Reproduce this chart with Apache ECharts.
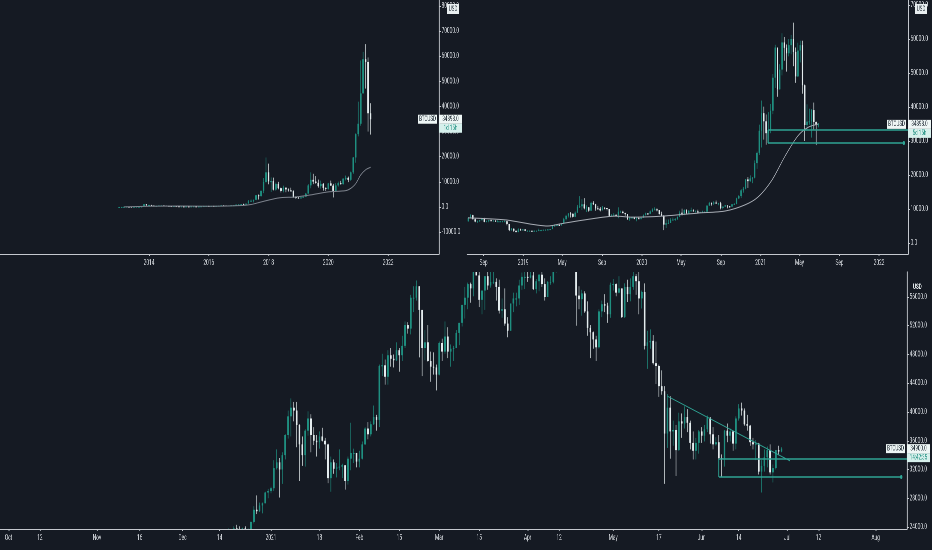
<!DOCTYPE html>
<html>
<head>
<meta charset="utf-8">
<script src="https://cdn.jsdelivr.net/npm/echarts@6/dist/echarts.min.js"></script>
<style>
html, body { margin: 0; padding: 0; background: #151a23; overflow: hidden; }
#wrap { width: 932px; height: 550px; overflow: hidden; }
/* the reference screenshot is squeezed sideways, so the chart is drawn wide and narrowed */
#chart { width: 1553px; height: 550px; transform: scaleX(0.6); transform-origin: 0 0; }
</style>
</head>
<body>
<div id="wrap"><div id="chart"></div></div>
<script>
const SX = 0.6;
const px = v => v / SX;   // page pixels -> chart pixels (horizontal only)
const UP = '#1f8f80', DOWN = '#e4ecee', TEXT = '#d3d7dc', AXIS = '#c4c8ce', DRAW = '#2fa394';
const FONT = 'Roboto, sans-serif';

// monthly BTCUSD candles, [open, close, low, high] in thousands, first month Jan 2013
const monthFirst = [2013, 0];
const monthly = [
  [0.013,0.020,0.013,0.021],[0.020,0.033,0.019,0.035],[0.033,0.093,0.033,0.095],[0.093,0.139,0.050,0.266],
  [0.139,0.128,0.080,0.140],[0.128,0.097,0.090,0.130],[0.097,0.106,0.065,0.110],[0.106,0.140,0.100,0.140],
  [0.140,0.140,0.110,0.145],[0.140,0.200,0.110,0.210],[0.200,1.130,0.200,1.160],[1.130,0.730,0.500,1.160],
  [0.73,0.80,0.74,1.02],[0.80,0.57,0.41,0.85],[0.57,0.45,0.44,0.70],[0.45,0.45,0.34,0.54],
  [0.45,0.63,0.42,0.64],[0.63,0.64,0.55,0.68],[0.64,0.59,0.57,0.66],[0.59,0.48,0.45,0.60],
  [0.48,0.39,0.37,0.50],[0.39,0.34,0.28,0.42],[0.34,0.38,0.31,0.46],[0.38,0.32,0.31,0.39],
  [0.32,0.22,0.15,0.32],[0.22,0.25,0.21,0.27],[0.25,0.24,0.24,0.30],[0.24,0.24,0.21,0.26],
  [0.24,0.23,0.23,0.25],[0.23,0.26,0.22,0.27],[0.26,0.28,0.25,0.32],[0.28,0.23,0.20,0.29],
  [0.23,0.24,0.22,0.25],[0.24,0.31,0.24,0.33],[0.31,0.38,0.31,0.50],[0.38,0.43,0.35,0.47],
  [0.43,0.37,0.35,0.46],[0.37,0.44,0.37,0.45],[0.44,0.42,0.40,0.44],[0.42,0.45,0.41,0.47],
  [0.45,0.53,0.44,0.55],[0.53,0.67,0.52,0.78],[0.67,0.62,0.60,0.70],[0.62,0.57,0.54,0.62],
  [0.57,0.61,0.57,0.63],[0.61,0.70,0.60,0.72],[0.70,0.74,0.69,0.75],[0.74,0.96,0.74,0.98],
  [0.96,0.97,0.75,1.16],[0.97,1.19,0.92,1.20],[1.19,1.07,0.89,1.30],[1.07,1.35,1.06,1.35],
  [1.35,2.30,1.34,2.77],[2.30,2.50,2.16,3.02],[2.50,2.86,1.84,2.93],[2.86,4.70,2.69,4.76],
  [4.70,4.34,2.97,4.98],[4.34,6.45,4.11,6.47],[6.45,9.95,5.51,11.52],[9.95,13.80,9.42,19.70],
  [13.80,10.20,9.04,17.25],[10.20,10.30,5.95,11.79],[10.30,6.90,6.60,11.68],[6.90,9.20,6.43,9.76],
  [9.20,7.50,7.05,10.00],[7.50,6.40,5.78,7.76],[6.40,7.70,5.83,8.49],[7.70,7.00,5.88,7.76],
  [7.00,6.60,6.13,7.40],[6.60,6.30,6.20,7.67],[6.30,4.00,3.65,6.60],[4.00,3.70,3.16,4.30],
  [3.70,3.40,3.35,4.10],[3.40,3.80,3.37,4.20],[3.80,4.10,3.70,4.10],[4.10,5.30,4.05,5.60],
  [5.30,8.60,5.30,9.10],[8.60,10.80,7.45,13.80],[10.80,10.10,9.10,13.20],[10.10,9.60,9.30,12.30],
  [9.60,8.30,7.70,10.90],[8.30,9.20,7.30,10.50],[9.20,7.60,6.50,9.50],[7.60,7.20,6.40,7.80],
  [7.20,9.40,6.90,9.60],[9.40,8.50,8.40,10.50],[8.50,6.40,3.80,9.20],[6.40,8.60,6.20,9.50],
  [8.60,9.50,8.10,10.10],[9.50,9.10,8.90,10.40],[9.10,11.30,8.90,11.40],[11.30,11.60,10.60,12.50],
  [11.60,10.80,9.90,12.10],[10.80,13.80,10.40,14.10],[13.80,19.70,13.20,19.90],[19.70,29.00,17.60,29.30],
  [29.00,33.10,28.10,41.90],[33.10,45.20,32.30,58.30],[45.20,58.80,45.10,61.70],[58.80,57.70,47.10,64.80],
  [57.70,37.30,30.00,59.50],[37.30,34.90,28.80,41.30]
];

// weekly candles, first week 2018-07-16
const weekFirst = '2018-07-16';
const weekly = [
  [6.35,7.4,6.3,7.6],[7.4,8.2,7.3,8.5],[8.2,7.0,6.9,8.3],[7.0,6.3,6.1,7.2],[6.3,6.5,5.9,6.6],[6.5,6.7,6.2,6.8],
  [6.7,7.3,6.7,7.4],[7.3,6.2,6.1,7.4],[6.2,6.5,6.1,6.6],[6.5,6.7,6.1,6.8],[6.7,6.6,6.5,6.9],[6.6,6.6,6.5,6.7],
  [6.6,6.3,6.2,6.7],[6.3,6.4,6.3,6.8],[6.4,6.4,6.3,6.5],[6.4,6.4,6.3,6.5],[6.4,6.4,6.3,6.6],[6.4,5.6,5.2,6.5],
  [5.6,3.8,3.5,5.6],[3.8,4.2,3.6,4.4],[4.2,3.6,3.3,4.3],[3.6,3.2,3.2,3.6],[3.2,4.0,3.2,4.3],[4.0,3.9,3.6,4.2],
  [3.9,4.0,3.7,4.1],[4.0,3.6,3.5,4.1],[3.6,3.6,3.5,3.7],[3.6,3.6,3.5,3.7],[3.6,3.4,3.4,3.6],[3.4,3.6,3.4,3.7],
  [3.6,3.6,3.6,3.7],[3.6,3.8,3.6,4.2],[3.8,3.8,3.7,3.9],[3.8,3.9,3.7,3.9],[3.9,3.9,3.8,4.0],[3.9,4.0,3.9,4.1],
  [4.0,4.1,3.9,4.1],[4.1,5.1,4.1,5.3],[5.1,5.1,4.9,5.5],[5.1,5.3,5.0,5.4],[5.3,5.2,5.1,5.7],[5.2,5.7,5.1,5.8],
  [5.7,7.0,5.6,7.4],[7.0,8.0,6.6,8.3],[8.0,8.7,7.5,8.8],[8.7,8.6,7.5,9.1],[8.6,7.7,7.5,8.7],[7.7,8.9,7.6,9.3],
  [8.9,10.7,8.9,11.2],[10.7,10.8,10.3,13.8],[10.8,11.4,9.7,12.9],[11.4,10.2,9.9,13.2],[10.2,10.5,9.1,11.1],[10.5,9.5,9.2,10.6],
  [9.5,11.8,9.4,12.1],[11.8,11.4,11.2,12.3],[11.4,10.2,9.5,11.5],[10.2,10.1,9.8,10.9],[10.1,9.6,9.3,10.6],[9.6,10.4,9.6,10.9],
  [10.4,10.3,9.9,10.5],[10.3,10.0,9.6,10.3],[10.0,8.0,7.8,10.0],[8.0,8.2,7.8,8.5],[8.2,8.3,7.8,8.8],[8.3,8.2,7.9,8.4],
  [8.2,9.2,7.3,10.5],[9.2,9.2,9.0,9.5],[9.2,8.8,8.7,9.5],[8.8,8.5,8.0,8.9],[8.5,7.0,6.8,8.5],[7.0,7.4,6.5,7.8],
  [7.4,7.5,7.2,7.6],[7.5,7.1,7.0,7.6],[7.1,7.3,6.4,7.5],[7.3,7.2,7.1,7.7],[7.2,7.4,6.9,7.6],[7.4,8.2,7.4,8.4],
  [8.2,8.7,8.1,8.9],[8.7,8.6,8.3,8.8],[8.6,9.3,8.5,9.6],[9.3,9.9,9.1,10.2],[9.9,9.9,9.7,10.5],[9.9,9.7,9.3,10.2],
  [9.7,8.5,8.4,9.7],[8.5,8.0,8.0,9.2],[8.0,5.4,3.8,8.2],[5.4,5.8,4.4,6.9],[5.8,5.9,5.7,6.9],[5.9,6.8,5.9,7.3],
  [6.8,6.9,6.7,7.5],[6.9,7.1,6.5,7.3],[7.1,7.7,6.8,7.8],[7.7,8.9,7.6,9.5],[8.9,8.7,8.1,10.1],[8.7,9.7,8.2,9.9],
  [9.7,8.7,8.6,9.9],[8.7,9.5,8.6,9.7],[9.5,9.6,9.3,10.4],[9.6,9.3,9.2,9.9],[9.3,9.3,9.1,9.6],[9.3,9.0,8.9,9.8],
  [9.0,9.1,9.0,9.2],[9.1,9.2,9.1,9.5],[9.2,9.2,9.1,9.3],[9.2,11.0,9.1,11.1],[11.0,11.8,10.9,12.1],[11.8,11.7,11.0,11.9],
  [11.7,11.9,11.2,12.3],[11.9,11.7,11.5,12.5],[11.7,11.7,11.1,11.8],[11.7,10.3,9.9,12.1],[10.3,10.7,9.9,10.8],[10.7,11.1,10.6,11.2],
  [11.1,10.8,10.2,11.0],[10.8,10.7,10.4,10.9],[10.7,11.4,10.6,11.5],[11.4,11.5,11.2,11.7],[11.5,13.1,11.4,13.3],[13.1,13.8,12.9,14.1],
  [13.8,15.5,13.2,15.9],[15.5,16.0,14.8,16.5],[16.0,18.7,15.8,18.8],[18.7,18.2,16.2,19.4],[18.2,19.0,18.0,19.9],[19.0,19.2,17.6,19.4],
  [19.2,23.5,19.0,24.3],[23.5,26.5,21.8,26.9],[26.5,33.0,25.9,34.8],[33.0,38.2,28.1,41.9],[38.2,35.8,30.4,40.1],[35.8,32.3,28.9,37.8],
  [32.3,33.1,29.2,38.5],[33.1,38.9,32.3,40.9],[38.9,48.6,37.9,49.7],[48.6,57.5,45.6,58.3],[57.5,45.2,43.0,57.5],[45.2,51.0,45.1,52.6],
  [51.0,59.0,49.3,61.7],[59.0,57.4,53.6,60.6],[57.4,55.8,50.4,58.4],[55.8,58.2,54.9,60.0],[58.2,60.0,55.5,61.2],[60.0,56.2,52.0,64.8],
  [56.2,49.0,47.1,57.5],[49.0,56.6,48.8,58.9],[56.6,58.2,53.1,59.5],[58.2,46.4,43.9,59.5],[46.4,34.7,30.0,46.6],[34.7,35.7,33.4,40.8],
  [35.7,35.8,34.8,39.5],[35.8,39.1,31.0,39.4],[39.1,35.6,33.3,41.3],[35.6,34.7,28.8,35.7],[34.7,34.9,34.0,35.3]
];

// daily candles, first day 2020-12-16
const dayFirst = '2020-12-16';
const daily = [
  [19.4,21.3,19.3,21.5],[21.3,22.8,21.2,23.8],[22.8,23.1,22.4,23.3],[23.1,23.8,22.8,24.1],[23.8,23.5,23.1,24.3],
  [23.5,22.7,21.8,24.1],[22.7,23.8,22.4,23.9],[23.8,23.2,22.7,24.1],[23.2,23.7,22.7,23.8],[23.7,24.7,23.5,24.8],
  [24.7,26.4,24.5,26.9],[26.4,26.2,25.8,28.4],[26.2,27.0,26.1,27.4],[27.0,27.3,25.9,27.4],[27.3,28.8,27.3,28.9],
  [28.8,29.0,28.0,29.3],
  [29.0,29.4,28.7,29.6],[29.4,32.2,29.0,33.3],[32.2,33.0,32.0,34.8],[33.0,32.0,28.1,33.6],[32.0,34.0,30.0,34.4],
  [34.0,36.8,33.4,36.9],[36.8,39.4,36.3,40.2],[39.4,40.6,36.6,41.9],[40.6,40.2,38.7,41.4],[40.2,38.2,35.1,41.4],
  [38.2,35.5,30.4,38.3],[35.5,34.0,32.5,36.6],[34.0,37.4,32.4,37.6],[37.4,39.1,36.7,40.1],[39.1,36.8,34.4,39.7],
  [36.8,36.0,35.4,37.9],[36.0,35.8,33.8,36.8],[35.8,36.6,34.9,37.3],[36.6,36.0,35.9,37.8],[36.0,35.5,33.4,36.4],
  [35.5,30.8,30.1,35.6],[30.8,33.0,28.9,33.8],[33.0,32.1,31.4,33.4],[32.1,32.3,30.9,32.9],[32.3,32.4,31.9,34.8],
  [32.4,32.6,30.8,32.8],[32.6,30.4,29.2,32.6],[30.4,33.5,29.9,33.8],[33.5,34.3,31.9,38.5],[34.3,34.3,32.9,34.9],
  [34.3,33.1,32.3,34.3],
  [33.1,33.5,32.3,34.6],[33.5,35.5,33.4,35.9],[35.5,37.7,35.4,37.9],[37.7,36.9,36.2,38.6],[36.9,38.3,36.6,38.7],
  [38.3,39.3,38.2,40.9],[39.3,38.9,37.4,39.6],[38.9,46.4,37.9,46.6],[46.4,46.5,45.0,48.1],[46.5,44.9,43.8,47.3],
  [44.9,47.9,43.8,48.6],[47.9,47.4,46.3,48.9],[47.4,47.2,46.2,48.0],[47.2,48.6,47.1,49.7],[48.6,47.9,45.6,48.9],
  [47.9,49.2,47.1,50.6],[49.2,52.1,48.9,52.6],[52.1,51.6,50.9,52.5],[51.6,55.9,50.8,56.3],[55.9,55.9,53.9,57.5],
  [55.9,57.5,55.5,58.3],[57.5,54.2,47.6,57.5],[54.2,48.9,45.0,54.2],[48.9,49.7,47.2,51.4],[49.7,47.1,47.0,52.1],
  [47.1,46.3,44.2,48.4],[46.3,46.2,45.2,48.3],[46.2,45.2,43.0,46.6],
  [45.2,49.6,45.1,49.8],[49.6,48.4,47.1,50.2],[48.4,50.5,48.1,52.6],[50.5,48.4,47.5,51.8],[48.4,48.8,46.3,49.4],
  [48.8,48.9,47.1,49.2],[48.9,51.0,48.9,51.4],[51.0,52.4,49.3,52.4],[52.4,54.9,51.9,54.9],[54.9,55.9,53.0,57.4],
  [55.9,57.8,54.3,58.0],[57.8,57.2,55.2,58.0],[57.2,61.2,56.1,61.7],[61.2,59.0,59.0,61.6],[59.0,55.6,54.6,60.6],
  [55.6,56.9,53.6,56.9],[56.9,58.9,54.2,58.9],[58.9,57.6,57.0,60.0],[57.6,58.1,57.3,59.5],[58.1,58.1,57.8,59.9],
  [58.1,57.4,55.5,58.6],[57.4,54.1,53.7,58.4],[54.1,54.3,53.1,55.8],[54.3,52.3,52.0,57.2],[52.3,51.3,50.4,53.2],
  [51.3,55.1,51.3,55.1],[55.1,55.8,53.9,56.6],[55.8,55.8,54.7,56.6],[55.8,57.6,54.9,58.4],[57.6,58.8,57.0,59.4],
  [58.8,58.8,57.1,59.8],
  [58.8,58.7,58.1,59.5],[58.7,59.0,58.6,60.0],[59.0,57.1,57.0,59.8],[57.1,58.2,56.5,58.5],[58.2,59.1,56.8,59.2],
  [59.1,57.8,57.4,59.5],[57.8,56.0,55.5,58.6],[56.0,58.1,56.0,58.2],[58.1,58.1,57.7,58.9],[58.1,59.8,57.9,61.2],
  [59.8,60.0,59.4,60.7],[60.0,59.9,59.5,61.3],[59.9,63.6,59.9,63.7],[63.6,62.9,61.3,64.8],[62.9,63.2,62.0,63.8],
  [63.2,61.3,60.0,63.6],[61.3,60.0,59.6,62.5],[60.0,56.2,52.0,60.4],[56.2,55.7,54.3,57.5],[55.7,56.5,53.4,57.0],
  [56.5,54.0,53.8,56.8],[54.0,51.7,50.6,55.4],[51.7,51.1,47.5,52.1],[51.1,50.1,48.8,51.2],[50.1,49.0,47.1,50.6],
  [49.0,54.0,48.8,54.3],[54.0,55.0,53.2,55.5],[55.0,54.8,53.9,56.4],[54.8,53.6,52.4,55.2],[53.6,57.7,53.1,58.0],
  [57.7,57.8,56.9,58.5],[57.8,56.6,56.1,57.9],[56.6,57.2,56.5,58.9],[57.2,53.2,53.1,57.2],[53.2,57.4,53.1,57.9],
  [57.4,56.4,55.3,58.4],[56.4,57.4,55.4,58.6],[57.4,58.9,57.0,59.5],[58.9,58.2,56.3,59.2],[58.2,55.8,53.6,59.5],
  [55.8,56.7,54.4,56.9],[56.7,49.2,48.7,57.9],[49.2,49.7,46.0,51.3],[49.7,49.9,48.8,51.5],[49.9,46.8,46.6,50.7],
  [46.8,46.4,43.9,49.8],[46.4,43.6,42.1,46.6],[43.6,42.9,42.4,45.8],[42.9,37.0,30.0,43.6],[37.0,40.6,35.0,42.5],
  [40.6,37.3,33.5,42.2],[37.3,37.5,35.3,38.8],[37.5,34.7,31.1,38.2],[34.7,38.7,34.6,39.9],[38.7,38.4,36.4,39.8],
  [38.4,39.3,37.7,40.8],[39.3,38.5,37.2,40.4],[38.5,35.7,34.8,38.8],[35.7,34.6,33.4,37.3],[34.6,35.7,33.4,36.4],
  [35.7,37.3,34.2,37.5],
  [37.3,36.7,35.7,37.9],[36.7,37.6,35.9,38.2],[37.6,39.2,37.2,39.5],[39.2,36.9,35.6,39.3],[36.9,35.5,34.8,37.9],
  [35.5,35.8,35.3,36.5],[35.8,33.6,33.4,36.8],[33.6,33.4,31.0,34.1],[33.4,37.4,32.4,37.5],[37.4,36.7,35.8,38.4],
  [36.7,37.3,35.9,37.7],[37.3,35.6,34.6,37.4],[35.6,39.1,34.8,39.4],[39.1,40.5,38.8,41.1],[40.5,40.2,39.5,41.3],
  [40.2,38.3,38.1,40.5],[38.3,38.1,37.4,39.6],[38.1,35.8,35.3,38.2],[35.8,35.5,34.8,36.4],[35.5,35.6,33.3,36.1],
  [35.6,31.7,31.3,35.7],[31.7,32.5,28.8,33.3],[32.5,33.7,31.7,34.8],[33.7,34.7,32.3,35.2],[34.7,31.6,31.3,35.5],
  [31.6,32.2,30.2,32.7],[32.2,34.7,32.0,34.7],[34.7,34.5,34.0,35.3],[34.5,34.9,34.4,35.1]
];

// moving averages, [date, value in thousands]
const monthlyMa = [
  ['2013-03-01',0.05],['2014-01-01',0.3],['2015-01-01',0.4],['2016-01-01',0.3],['2017-01-01',0.55],
  ['2017-06-01',1.0],['2017-10-01',2.0],['2018-05-01',3.6],['2018-12-01',4.0],['2019-06-01',4.8],
  ['2020-01-01',6.0],['2020-08-01',6.5],['2020-10-01',7.4],['2020-12-01',9.3],['2021-02-01',12.8],
  ['2021-04-01',14.8],['2021-06-01',15.8]
];
const weeklyMa = [
  ['2018-07-16',7.4],['2018-11-07',6.8],['2019-03-18',5.0],['2019-05-10',5.9],['2019-08-20',7.4],
  ['2019-10-11',7.9],['2019-12-02',7.6],['2020-03-04',7.9],['2020-06-22',8.8],['2020-09-14',9.4],
  ['2020-11-14',11.2],['2020-12-24',13.5],['2021-02-05',18.5],['2021-03-17',25.5],['2021-04-26',31.5],
  ['2021-05-27',34.0],['2021-06-28',35.0]
];

// axis ticks
const monthlyTicks = ['2014-01-01','2016-01-01','2018-01-01','2020-01-01','2022-01-01'];
const monthlyTickLabels = ['2014','2016','2018','2020','2022'];
const weeklyTicks = ['2018-09-01','2019-01-01','2019-05-01','2019-09-01','2020-01-01','2020-05-01',
  '2020-09-01','2021-01-01','2021-05-01','2021-09-01','2022-01-01'];
const weeklyTickLabels = ['Sep','2019','May','Sep','2020','May','Sep','2021','May','Sep','2022'];
const dailyTicks = ['2020-10-01','2020-10-12','2020-11-01','2020-11-16','2020-12-01','2020-12-14',
  '2021-01-01','2021-01-18','2021-02-01','2021-02-15','2021-03-01','2021-03-15','2021-04-01',
  '2021-04-12','2021-05-01','2021-05-17','2021-06-01','2021-06-14','2021-07-01','2021-07-12','2021-08-01'];
const dailyTickLabels = ['Oct','12','Nov','16','Dec','14','2021','18','Feb','15','Mar','15','Apr',
  '12','May','17','Jun','14','Jul','12','Aug'];
const monthlyPriceTicks = [-10000,0,10000,20000,30000,40000,50000,60000,70000,80000];
const weeklyPriceTicks = [0,10000,20000,30000,40000,50000,60000,70000];
const dailyPriceTicks = [24000,28000,32000,36000,40000,44000,48000,52000,56000];

// last price and candle countdowns
const lastPrices = [34898, 34898, 34900];
const countdowns = ['1d 15h', '5d 15h', '14:42:35'];

// drawings
const weeklyLevels = [33235, 29412];
const weeklyLevelFrom = '2021-01-24';
const weeklyLevelDot = '2022-03-18';
const dailyLevels = [33460, 30960];
const dailyLevelFrom = '2021-06-07';
const dailyLevelDot = '2021-08-10';
const trendFrom = ['2021-05-20', 42200];
const trendTo = ['2021-07-02', 33200];

const ts = s => Date.parse(s + 'T00:00:00Z');
const DAY = 86400000;
const ranges = [
  [ts('2009-01-06'), ts('2023-09-15'), -18695, 82338],
  [ts('2018-07-12'), ts('2022-03-31'), -3235, 71470],
  [ts('2020-09-28'), ts('2021-08-12'), 23722, 59478]
];

const rows = (arr, dateOf) => arr.map((c, i) => [dateOf(i), c[0] * 1000, c[1] * 1000, c[2] * 1000, c[3] * 1000]);
const monthRows = rows(monthly, i => Date.UTC(monthFirst[0], monthFirst[1] + i, 1));
const weekRows = rows(weekly, i => ts(weekFirst) + i * 7 * DAY);
const dayRows = rows(daily, i => ts(dayFirst) + i * DAY);

const labelStyle = { color: TEXT, fontSize: 8, fontFamily: FONT };

function xAxis(idx, ticks, labels) {
  const vals = ticks.map(ts);
  return {
    type: 'value', gridIndex: idx, min: ranges[idx][0], max: ranges[idx][1],
    axisLine: { show: true, onZero: false, lineStyle: { color: AXIS } },
    axisTick: { show: true, length: 2, customValues: vals, lineStyle: { color: AXIS, width: 1.5 } },
    axisLabel: Object.assign({ customValues: vals, margin: 5,
      formatter: v => labels[vals.indexOf(v)] || '' }, labelStyle),
    splitLine: { show: false }
  };
}

function yAxis(idx, ticks) {
  return {
    type: 'value', gridIndex: idx, position: 'right', min: ranges[idx][2], max: ranges[idx][3],
    axisLine: { show: true, onZero: false, lineStyle: { color: AXIS, width: 1.6 } },
    axisTick: { show: true, length: px(2), customValues: ticks, lineStyle: { color: AXIS } },
    axisLabel: Object.assign({ customValues: ticks, margin: px(2.5), formatter: v => v.toFixed(1) }, labelStyle),
    splitLine: { show: false }
  };
}

function priceLabel(idx) {
  const nameW = px(19), priceW = px(23), gap = px(2);
  const box = { height: 9, lineHeight: 9, align: 'center', fontSize: 7.5, fontFamily: FONT };
  return {
    yAxis: lastPrices[idx],
    lineStyle: { color: 'transparent' },
    label: {
      show: true, position: 'end', distance: 0, offset: [-(nameW + gap), 4.5],
      formatter: '{n|BTCUSD}{g|}{p|' + lastPrices[idx].toFixed(1) + '}\n{b|}{g|}{t|' + countdowns[idx] + '}',
      rich: {
        n: Object.assign({ backgroundColor: '#eef6f5', color: '#1b2630', width: nameW }, box),
        g: { width: gap, height: 9 },
        p: Object.assign({ backgroundColor: '#eef6f5', color: '#1b2630', width: priceW }, box),
        b: { width: nameW, height: 9 },
        t: Object.assign({ backgroundColor: '#d6f0ec', color: '#1f8f80', width: priceW }, box)
      }
    }
  };
}

function levelLines(idx, levels, from, dot) {
  const end = ranges[idx][1];
  return [
    [{ coord: [ts(from), levels[0]] }, { coord: [end, levels[0]] }],
    [{ coord: [ts(from), levels[1]] }, { coord: [ts(dot), levels[1]], symbol: 'circle', symbolSize: 4 }],
    [{ coord: [ts(from), levels[0]], lineStyle: { width: 1.6 } }, { coord: [ts(from), levels[1]] }]
  ];
}

// candles drawn through the axes' own scales, clipped to each grid
function candleRenderer(bodyWidth) {
  return function (params, api) {
    const x = api.value(0), o = api.value(1), c = api.value(2), l = api.value(3), h = api.value(4);
    const pO = api.coord([x, o]), pC = api.coord([x, c]), pL = api.coord([x, l]), pH = api.coord([x, h]);
    const color = c >= o ? UP : DOWN;
    const top = Math.min(pO[1], pC[1]);
    return {
      type: 'group',
      children: [
        { type: 'line', shape: { x1: pL[0], y1: pL[1], x2: pH[0], y2: pH[1] },
          style: { stroke: color, lineWidth: 1.4, opacity: 0.75 } },
        { type: 'rect', shape: { x: pO[0] - bodyWidth / 2, y: top, width: bodyWidth,
          height: Math.max(Math.abs(pO[1] - pC[1]), 1) }, style: { fill: color } }
      ]
    };
  };
}

function candles(idx, data, width, marks) {
  return {
    type: 'custom', xAxisIndex: idx, yAxisIndex: idx, data: data, clip: true,
    encode: { x: 0, y: [1, 2, 3, 4] }, renderItem: candleRenderer(width), silent: true,
    markLine: {
      silent: true, symbol: ['none', 'none'], animation: false,
      label: { show: false },
      lineStyle: { color: DRAW, width: 1.5, type: 'solid' },
      data: marks
    }
  };
}

function maLine(idx, pts, color) {
  return {
    type: 'line', xAxisIndex: idx, yAxisIndex: idx, data: pts.map(p => [ts(p[0]), p[1] * 1000]),
    smooth: 0.3, showSymbol: false, silent: true, clip: true,
    lineStyle: { color: color, width: 1 }
  };
}

const usdBox = { padding: [1, 3], backgroundColor: '#e8eef0',
  textStyle: { fontSize: 7.5, color: '#1b2630', fontWeight: 'normal', fontFamily: FONT } };

const chart = echarts.init(document.getElementById('chart'), null, { devicePixelRatio: 2 });
chart.setOption({
  backgroundColor: '#151a23',
  animation: false,
  title: [
    Object.assign({ text: 'USD', left: px(447), top: 4 }, usdBox),
    Object.assign({ text: 'USD', left: px(915), top: 4 }, usdBox),
    { text: 'USD', left: px(913), top: 283, padding: 0,
      textStyle: { fontSize: 7.5, color: '#e8eef0', fontWeight: 'bold', fontFamily: FONT } }
  ],
  grid: [
    { left: 0, top: 0, width: px(439), height: 254 },
    { left: px(467), top: 0, width: px(441), height: 254 },
    { left: 0, top: 272, width: px(907), height: 257 }
  ],
  xAxis: [
    xAxis(0, monthlyTicks, monthlyTickLabels),
    xAxis(1, weeklyTicks, weeklyTickLabels),
    xAxis(2, dailyTicks, dailyTickLabels)
  ],
  yAxis: [
    yAxis(0, monthlyPriceTicks),
    yAxis(1, weeklyPriceTicks),
    yAxis(2, dailyPriceTicks)
  ],
  series: [
    maLine(0, monthlyMa, '#7f858f'),
    candles(0, monthRows, px(1.6), [priceLabel(0)]),
    maLine(1, weeklyMa, '#a9aeb6'),
    candles(1, weekRows, px(1.4), [priceLabel(1)].concat(levelLines(1, weeklyLevels, weeklyLevelFrom, weeklyLevelDot))),
    candles(2, dayRows, px(1.7), [priceLabel(2)].concat(levelLines(2, dailyLevels, dailyLevelFrom, dailyLevelDot)).concat([
      [{ coord: [ts(trendFrom[0]), trendFrom[1]], lineStyle: { width: 1 } }, { coord: [ts(trendTo[0]), trendTo[1]] }]
    ]))
  ]
});
</script>
</body>
</html>
